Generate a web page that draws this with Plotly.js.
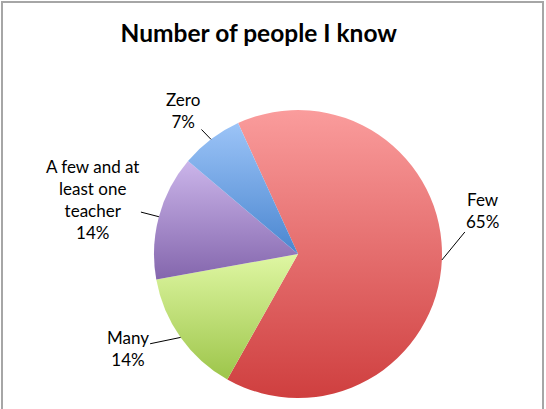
<!DOCTYPE html>
<html>
<head>
<meta charset="utf-8">
<script src="https://cdn.plot.ly/plotly-3.0.1.min.js"></script>
<style>
  html, body { margin: 0; padding: 0; background: #fff; }
  #frame { position: absolute; left: 1px; top: 1px; width: 543px; height: 430px;
           border: 2px solid #a6a6a6; box-sizing: border-box; }
  #chart { position: absolute; left: 0; top: 0; width: 546px; height: 409px; }
</style>
</head>
<body>
<div id="frame"></div>
<div id="chart"></div>
<script>
// Data
const labels = ["Few", "Many", "A few and at<br>least one<br>teacher", "Zero"];
const values = [65, 14, 14, 7];
const colors = ["#e56d6d", "#bcdb73", "#a88dcc", "#74a4e4"];
const gradTop = ["#fa9c9c", "#dff7a3", "#cbb5ea", "#9cc4f7"];
const gradBottom = ["#cf3f3f", "#9dc54a", "#8466ad", "#4a86d0"];
// label offsets (px) from the slice edge to the label centre
const labelDx = [41, -53, -66, -28];
const labelDy = [-50, 11, -17, -29];

const rotation = -24.6;
const total = values.reduce((a, b) => a + b, 0);

const m = { l: 154, r: 104, t: 110, b: 11 };
const W = 546, H = 409;
const pw = W - m.l - m.r, ph = H - m.t - m.b;
const R = Math.min(pw, ph) / 2;

const fontFam = "Lato, 'DejaVu Sans', sans-serif";
const annotations = [];
let acc = 0;
values.forEach(function (v, i) {
  const mid = (rotation + (acc + v / 2) / total * 360) * Math.PI / 180;
  acc += v;
  annotations.push({
    xref: "paper", yref: "paper",
    x: 0.5 + R * Math.sin(mid) / pw,
    y: 0.5 + R * Math.cos(mid) / ph,
    text: labels[i] + "<br>" + Math.round(v / total * 100) + "%",
    showarrow: true, arrowhead: 0, arrowwidth: 1, arrowcolor: "#000",
    ax: labelDx[i], ay: labelDy[i], standoff: 0,
    font: { family: fontFam, size: 17, color: "#000" },
    align: "center"
  });
});

const trace = {
  type: "pie",
  labels: labels,
  values: values,
  sort: false,
  direction: "clockwise",
  rotation: rotation,
  marker: { colors: colors, line: { width: 0 } },
  textinfo: "none",
  hoverinfo: "label+percent",
  showlegend: false
};

const layout = {
  width: W,
  height: H,
  paper_bgcolor: "rgba(0,0,0,0)",
  plot_bgcolor: "rgba(0,0,0,0)",
  margin: m,
  title: {
    text: "<b>Number of people I know</b>",
    font: { family: fontFam, size: 24.5, color: "#000" },
    x: 0.474, xanchor: "center", xref: "container",
    y: 0.918, yanchor: "middle", yref: "container"
  },
  annotations: annotations,
  showlegend: false
};

Plotly.newPlot("chart", [trace], layout, { displayModeBar: false, staticPlot: true }).then(function (gd) {
  const svg = gd.querySelector("svg.main-svg");
  const ns = "http://www.w3.org/2000/svg";
  const defs = document.createElementNS(ns, "defs");
  svg.insertBefore(defs, svg.firstChild);
  const paths = gd.querySelectorAll(".slice path.surface");
  paths.forEach(function (p, i) {
    const g = document.createElementNS(ns, "linearGradient");
    g.setAttribute("id", "sliceGrad" + i);
    g.setAttribute("x1", "0"); g.setAttribute("y1", "0");
    g.setAttribute("x2", "0"); g.setAttribute("y2", "1");
    const s1 = document.createElementNS(ns, "stop");
    s1.setAttribute("offset", "0"); s1.setAttribute("stop-color", gradTop[i]);
    const s2 = document.createElementNS(ns, "stop");
    s2.setAttribute("offset", "1"); s2.setAttribute("stop-color", gradBottom[i]);
    g.appendChild(s1); g.appendChild(s2);
    defs.appendChild(g);
    p.style.fill = "url(#sliceGrad" + i + ")";
  });
});
</script>
</body>
</html>
